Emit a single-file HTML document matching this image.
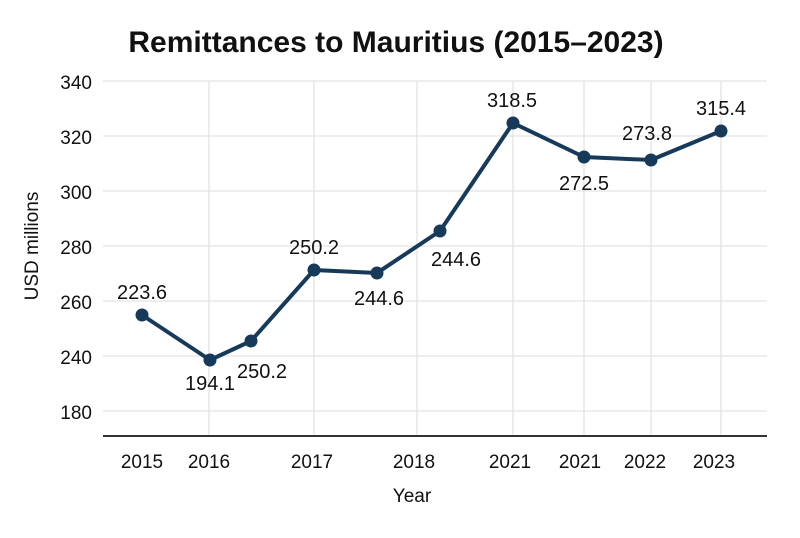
<!DOCTYPE html>
<html><head><style>
body{margin:0;background:#fff;}
svg text{font-family:"Liberation Sans",sans-serif;fill:#111;}
</style></head><body>
<svg width="800" height="533" xmlns="http://www.w3.org/2000/svg">
<rect width="800" height="533" fill="#fff"/>
<text x="396" y="52" font-size="30" font-weight="bold" text-anchor="middle">Remittances to Mauritius (2015–2023)</text>
<g stroke="#e3e3e3" stroke-width="1.3">
<line x1="103" x2="767" y1="81" y2="81"/>
<line x1="103" x2="767" y1="136" y2="136"/>
<line x1="103" x2="767" y1="191" y2="191"/>
<line x1="103" x2="767" y1="246" y2="246"/>
<line x1="103" x2="767" y1="301" y2="301"/>
<line x1="103" x2="767" y1="356" y2="356"/>
<line x1="103" x2="767" y1="411" y2="411"/>
<line x1="209" x2="209" y1="81" y2="436"/>
<line x1="314" x2="314" y1="81" y2="436"/>
<line x1="417" x2="417" y1="81" y2="436"/>
<line x1="513" x2="513" y1="81" y2="436"/>
<line x1="584" x2="584" y1="81" y2="436"/>
<line x1="651" x2="651" y1="81" y2="436"/>
<line x1="721" x2="721" y1="81" y2="436"/>
</g>
<line x1="103" x2="767" y1="436" y2="436" stroke="#333" stroke-width="2"/>
<g font-size="19" text-anchor="end">
<text x="92" y="89">340</text><text x="92" y="144">320</text><text x="92" y="199">300</text>
<text x="92" y="254">280</text><text x="92" y="309">260</text><text x="92" y="364">240</text>
<text x="92" y="419">180</text>
</g>
<g font-size="19" text-anchor="middle">
<text x="142" y="468">2015</text><text x="209" y="468">2016</text><text x="312" y="468">2017</text>
<text x="414" y="468">2018</text><text x="510" y="468">2021</text><text x="580" y="468">2021</text>
<text x="645" y="468">2022</text><text x="714" y="468">2023</text>
<text x="412" y="502">Year</text>
<text transform="translate(38,246) rotate(-90)">USD millions</text>
</g>
<polyline fill="none" stroke="#173a5a" stroke-width="4" stroke-linejoin="round" points="142,315 210,360 251,341 314,270 377,273 440,231 513,123 584,157 651,160 721,131"/>
<g fill="#173a5a">
<circle cx="142" cy="315" r="6.5"/><circle cx="210" cy="360" r="6.5"/><circle cx="251" cy="341" r="6.5"/>
<circle cx="314" cy="270" r="6.5"/><circle cx="377" cy="273" r="6.5"/><circle cx="440" cy="231" r="6.5"/>
<circle cx="513" cy="123" r="6.5"/><circle cx="584" cy="157" r="6.5"/><circle cx="651" cy="160" r="6.5"/>
<circle cx="721" cy="131" r="6.5"/>
</g>
<g font-size="20" text-anchor="middle">
<text x="142" y="299">223.6</text>
<text x="210" y="390">194.1</text>
<text x="262" y="378">250.2</text>
<text x="314" y="254">250.2</text>
<text x="379" y="305">244.6</text>
<text x="456" y="266">244.6</text>
<text x="512" y="107">318.5</text>
<text x="584" y="190">272.5</text>
<text x="647" y="140">273.8</text>
<text x="721" y="115">315.4</text>
</g>
</svg>
</body></html>
